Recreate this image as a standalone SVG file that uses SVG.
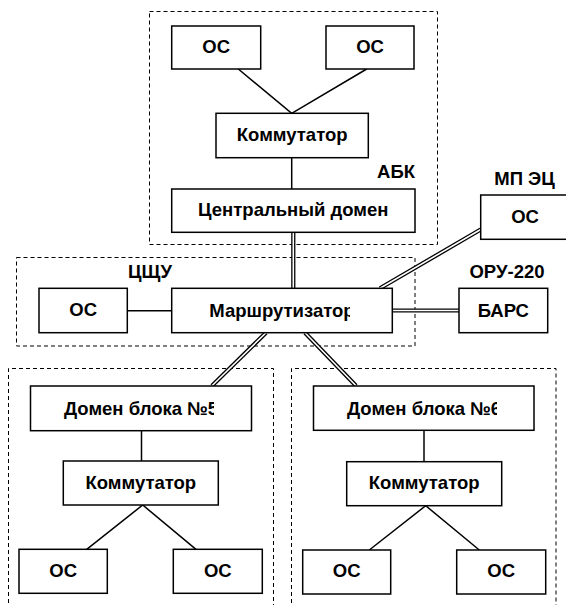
<svg xmlns="http://www.w3.org/2000/svg" width="566" height="605" viewBox="0 0 566 605">
<style>
.box{fill:#fff;stroke:#000;stroke-width:1.5}
.grp{fill:none;stroke:#000;stroke-width:1;stroke-dasharray:4 3}
.ln{stroke:#000;stroke-width:1.5;fill:none}
.dbo{stroke:#000;stroke-width:4.2;fill:none}
.dbi{stroke:#fff;stroke-width:1.6;fill:none}
text{font-family:"Liberation Sans",Arial,sans-serif;font-weight:bold;font-size:18.5px;fill:#000;text-anchor:middle}
</style>
<defs>
<clipPath id="cR"><rect x="0" y="0" width="350" height="605"/></clipPath>
<clipPath id="c5"><rect x="0" y="0" width="214" height="605"/></clipPath>
<clipPath id="c6"><rect x="0" y="0" width="497" height="605"/></clipPath>
</defs>
<rect width="566" height="605" fill="#fff"/>
<g id="groups">
<rect class="grp" x="149.5" y="11.5" width="288" height="233"/>
<rect class="grp" x="16.5" y="257.5" width="398.5" height="88.5"/>
<path class="grp" d="M8.5,610 V368.5 H273.5 V610"/>
<path class="grp" d="M291.5,610 V368.5 H556 V610"/>
</g>
<g id="connectors">
<path class="ln" d="M238.3,69 L291.7,113.3 L366.7,69"/>
<path class="ln" d="M291.7,157.7 V189"/>
<path class="ln" d="M127.3,310.7 H171.7"/>
<path class="ln" d="M141.5,430.7 V461"/>
<path class="ln" d="M86.7,549.3 L142.7,505 L196,549.3"/>
<path class="ln" d="M424,430 V461.7"/>
<path class="ln" d="M369.3,550 L425.7,505.7 L479.3,550"/>
<g id="double-lines">
<path class="dbo" d="M293.3,232.3 V288.3"/>
<path class="dbo" d="M380,288.3 L480.7,229.5"/>
<path class="dbo" d="M392.3,310.5 H459"/>
<path class="dbo" d="M266,332.7 L212,385.7"/>
<path class="dbo" d="M305,332.7 L356,385.7"/>
<path class="dbi" d="M293.3,232.3 V288.3"/>
<path class="dbi" d="M380,288.3 L480.7,229.5"/>
<path class="dbi" d="M392.3,310.5 H459"/>
<path class="dbi" d="M266,332.7 L212,385.7"/>
<path class="dbi" d="M305,332.7 L356,385.7"/>
</g>
</g>
<g id="abk-os1"><rect class="box" x="171.7" y="26" width="89" height="43"/><text x="216.2" y="53">ОС</text></g>
<g id="abk-os2"><rect class="box" x="326" y="26" width="88" height="43"/><text x="370" y="53">ОС</text></g>
<g id="abk-switch"><rect class="box" x="216" y="113.3" width="152.3" height="44.4"/><text x="292.2" y="141">Коммутатор</text></g>
<g id="central-domain"><rect class="box" x="171.7" y="189" width="243.3" height="43.3"/><text x="293.3" y="216">Центральный домен</text></g>
<g id="label-abk"><text x="396" y="178.3">АБК</text></g>
<g id="label-mpec"><text x="524.5" y="185">МП ЭЦ</text></g>
<g id="mpec-os"><rect class="box" x="480.7" y="195" width="90" height="44.3"/><text x="525" y="223">ОС</text></g>
<g id="label-cshu"><text x="150" y="278.3">ЦЩУ</text></g>
<g id="label-oru"><text x="507" y="277.5">ОРУ-220</text></g>
<g id="cshu-os"><rect class="box" x="39" y="288.3" width="88.3" height="44.4"/><text x="83.2" y="316">ОС</text></g>
<g id="router"><rect class="box" x="171.7" y="288.3" width="220.6" height="44.4"/><text x="282" y="316.5" clip-path="url(#cR)">Маршрутизатор</text></g>
<g id="bars"><rect class="box" x="459" y="288.3" width="88.7" height="44.4"/><text x="503.3" y="316.5">БАРС</text></g>
<g id="domain5"><rect class="box" x="30.5" y="386" width="221" height="44.7"/><text x="141" y="414.5" clip-path="url(#c5)">Домен блока №5</text></g>
<g id="switch5"><rect class="box" x="63.3" y="461" width="155" height="44"/><text x="140.8" y="488.5">Коммутатор</text></g>
<g id="os5a"><rect class="box" x="19" y="549.3" width="88.3" height="44"/><text x="63.2" y="576.5">ОС</text></g>
<g id="os5b"><rect class="box" x="173.3" y="549.3" width="89" height="44"/><text x="217.8" y="576.5">ОС</text></g>
<g id="domain6"><rect class="box" x="313.5" y="386" width="220.5" height="44.3"/><text x="424" y="414.5" clip-path="url(#c6)">Домен блока №6</text></g>
<g id="switch6"><rect class="box" x="346.7" y="461.7" width="155" height="44"/><text x="424.2" y="489">Коммутатор</text></g>
<g id="os6a"><rect class="box" x="302.7" y="550" width="88" height="44"/><text x="346.7" y="577">ОС</text></g>
<g id="os6b"><rect class="box" x="456.7" y="550" width="89" height="44"/><text x="501.2" y="577">ОС</text></g>
</svg>
